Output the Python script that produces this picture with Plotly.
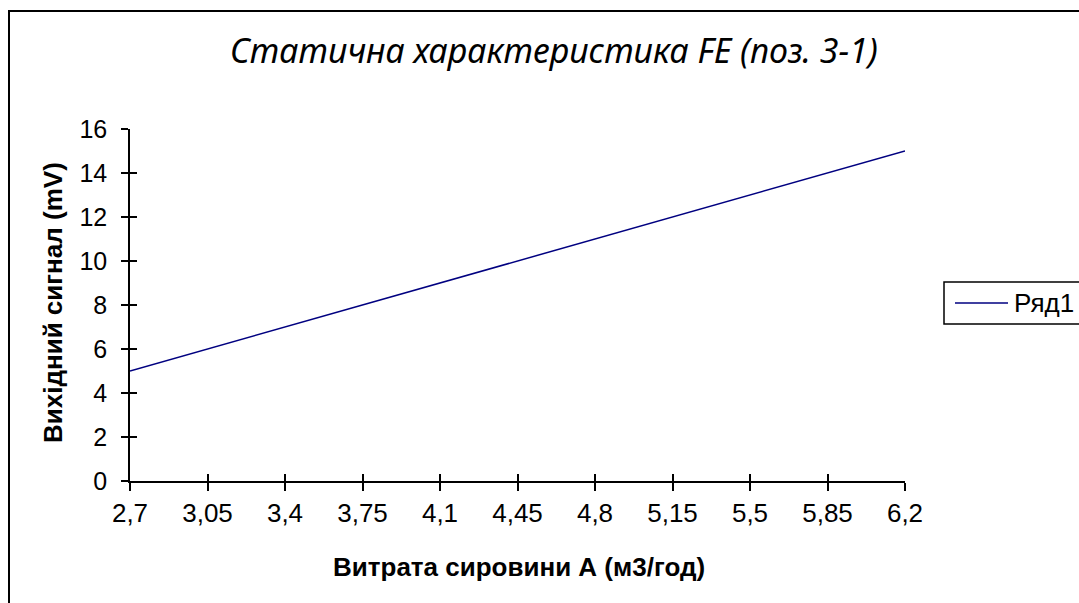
import plotly.graph_objects as go

# Flow rate categories (m3/h) and output signal (mV)
flow_labels = ["2,7", "3,05", "3,4", "3,75", "4,1", "4,45", "4,8", "5,15", "5,5", "5,85", "6,2"]
signal_mv = [5, 6, 7, 8, 9, 10, 11, 12, 13, 14, 15]
y_ticks = [0, 2, 4, 6, 8, 10, 12, 14, 16]

W, H = 1079, 603
L, R, T, B = 130, 905, 129, 481  # plot area in pixels
FONT = "Liberation Sans, Arial, sans-serif"
TITLE_FONT = "Noto Sans, Liberation Sans, sans-serif"
LINE_COLOR = "#000080"


def px_x(p):
    return (p - L) / (R - L)


def px_y(p):
    return (B - p) / (B - T)


fig = go.Figure()
fig.add_trace(go.Scatter(
    x=flow_labels, y=signal_mv, mode="lines", name="Ряд1",
    line=dict(color=LINE_COLOR, width=1.5), showlegend=False,
))
# invisible trace on the overlay axes carrying the inner half of the tick marks
fig.add_trace(go.Scatter(
    x=flow_labels, y=signal_mv, mode="lines", xaxis="x2", yaxis="y2",
    line=dict(width=0), opacity=0, hoverinfo="skip", showlegend=False,
))

axis_common = dict(showgrid=False, zeroline=False, showline=True, linecolor="black",
                   linewidth=1.5, tickcolor="black", tickwidth=1.5)

fig.update_layout(
    width=W, height=H,
    margin=dict(l=L, r=W - R, t=T, b=H - B),
    paper_bgcolor="white", plot_bgcolor="white",
    font=dict(family=FONT, color="black"),
    xaxis=dict(type="category", range=[0, len(flow_labels) - 1], ticks="outside", ticklen=8,
               tickfont=dict(size=26, family=FONT), ticklabelstandoff=0, **axis_common),
    yaxis=dict(range=[0, 16], tickvals=y_ticks, ticks="outside", ticklen=7,
               tickfont=dict(size=25, family=FONT), ticklabelstandoff=9, **axis_common),
    xaxis2=dict(type="category", range=[0, len(flow_labels) - 1], overlaying="x",
                ticks="inside", showticklabels=False, showgrid=False, zeroline=False,
                showline=False, tickcolor="black", tickwidth=1.5, ticklen=7, anchor="y2"),
    yaxis2=dict(range=[0, 16], tickvals=y_ticks, overlaying="y", ticks="inside",
                showticklabels=False, showgrid=False, zeroline=False, showline=False,
                tickcolor="black", tickwidth=1.5, ticklen=7, anchor="x2"),
    showlegend=False,
)

# chart frame (runs past the right and bottom edges of the page)
fig.add_shape(type="rect", xref="paper", yref="paper",
              x0=px_x(9), x1=px_x(W + 40), y0=px_y(11), y1=px_y(H + 40),
              line=dict(color="black", width=2), fillcolor="rgba(0,0,0,0)", layer="below")

# legend box, sample line and label
fig.add_shape(type="rect", xref="paper", yref="paper",
              x0=px_x(944), x1=px_x(W + 40), y0=px_y(282), y1=px_y(324),
              line=dict(color="black", width=1.5), fillcolor="white")
fig.add_shape(type="line", xref="paper", yref="paper",
              x0=px_x(955), x1=px_x(1008), y0=px_y(303), y1=px_y(303),
              line=dict(color=LINE_COLOR, width=1.5))
fig.add_annotation(text="Ряд1", xref="paper", yref="paper", x=px_x(1012), y=px_y(303),
                   xanchor="left", yanchor="middle", showarrow=False,
                   font=dict(size=26, family=FONT))

# title and axis titles
fig.add_annotation(text="<i>Статична характеристика FE (поз. 3-1)</i>", xref="paper", yref="paper",
                   x=px_x(554), y=px_y(50), xanchor="center", yanchor="middle", showarrow=False,
                   font=dict(size=34, family=TITLE_FONT))
fig.add_annotation(text="<b>Витрата сировини А (м3/год)</b>", xref="paper", yref="paper",
                   x=px_x(519), y=px_y(567), xanchor="center", yanchor="middle", showarrow=False,
                   font=dict(size=26, family=FONT))
fig.add_annotation(text="<b>Вихідний сигнал (mV)</b>", xref="paper", yref="paper",
                   x=px_x(53), y=px_y(303), xanchor="center", yanchor="middle", showarrow=False,
                   textangle=-90, font=dict(size=26, family=FONT))

fig.write_html("out.html")
